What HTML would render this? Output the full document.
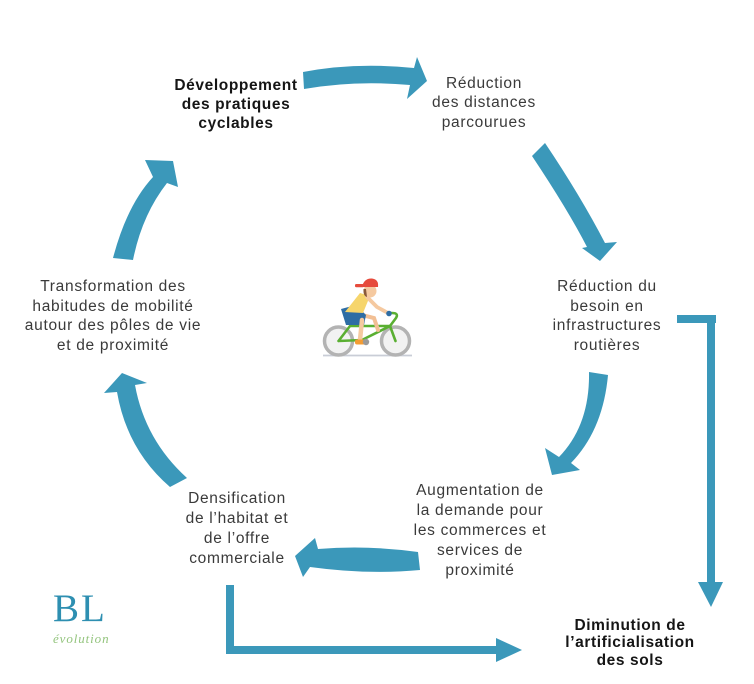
<!DOCTYPE html>
<html>
<head>
<meta charset="utf-8">
<style>
  html,body{margin:0;padding:0;background:#fff;}
  body{width:754px;height:684px;position:relative;overflow:hidden;}
  .t{position:absolute;text-align:center;font-family:"Liberation Sans",Arial,sans-serif;white-space:nowrap;}
  .r{font-size:15.5px;color:#3a3a3a;letter-spacing:0.7px;}
  .b{font-size:15.5px;color:#151515;font-weight:bold;letter-spacing:0.6px;}
  svg{position:absolute;left:0;top:0;}
</style>
</head>
<body>
<svg width="754" height="684" viewBox="0 0 754 684" xmlns="http://www.w3.org/2000/svg">
  <g fill="#3b98ba">
    <!-- top arrow -->
    <path d="M303,72 Q355,62 414,68 L417,57 L427,81 L407,99 L410,85 Q355,80 304,89 Z"/>
    <!-- upper right arrow -->
    <path d="M545,143 Q580,195 605,243 L617,242 L600,261 L582,248 L587,247 Q568,210 532,156 Z"/>
    <!-- lower right arrow -->
    <path d="M589,372 L608,375 Q603,430 571,463 L580,470 L552,475 L545,448 L559,457 Q590,425 589,372 Z"/>
    <!-- bottom arrow -->
    <path d="M418,552 Q368,545 318,549 L315,538 L295,556 L303,577 L310,567 Q368,575 420,570 Z"/>
    <!-- lower left arrow -->
    <path d="M187,478 Q145,440 135,385 L147,383 L122,373 L104,393 L117,392 Q127,450 170,487 Z"/>
    <!-- upper left arrow -->
    <path d="M113,258 Q127,205 153,177 L145,160 L173,161 L178,187 L167,183 Q142,215 133,260 Z"/>
    <!-- right L connector -->
    <rect x="677" y="315" width="39" height="8"/>
    <rect x="707" y="315" width="8" height="268"/>
    <polygon points="698,582 723,582 711,607"/>
    <!-- bottom L connector -->
    <rect x="226" y="585" width="8" height="69"/>
    <rect x="226" y="646" width="272" height="8"/>
    <polygon points="496,638 496,662 522,650"/>
  </g>

  <!-- cyclist -->
  <g>
    <line x1="323" y1="355.5" x2="412" y2="355.5" stroke="#c9cdd6" stroke-width="1.8"/>
    <circle cx="338.5" cy="341" r="14" fill="#f2f2f2" stroke="#b3b3b3" stroke-width="3.5"/>
    <circle cx="395.5" cy="341" r="14" fill="#f2f2f2" stroke="#b3b3b3" stroke-width="3.5"/>
    <g stroke="#5aaf32" stroke-width="2.6" fill="none" stroke-linecap="round" stroke-linejoin="round">
      <polyline points="338.5,341 350,326 390,326 362,340 338.5,341"/>
      <line x1="390" y1="326" x2="395.5" y2="341"/>
      <path d="M390,326 L396,318 Q399,313 392,313 L388,313"/>
    </g>
    <!-- far leg -->
    <path d="M358,314 L374,318 L378,330" stroke="#f2bf94" stroke-width="4" fill="none" stroke-linecap="round"/>
    <!-- shorts -->
    <polygon points="341,309 356,305 366,315 364,325 346,325" fill="#2e6da4"/>
    <!-- shin -->
    <path d="M362,320 L360,340" stroke="#f5c9a0" stroke-width="4.5" stroke-linecap="round"/>
    <!-- shoe -->
    <rect x="355" y="339.5" width="11" height="5" rx="2" fill="#f39c34"/>
    <circle cx="366" cy="342" r="3.2" fill="#9a9a9a"/>
    <!-- torso -->
    <polygon points="360,293 370,296 363,313 345,312" fill="#f6d56b"/>
    <!-- arm -->
    <path d="M367,297 L377,307 L388,313" stroke="#f5c9a0" stroke-width="3.8" fill="none" stroke-linecap="round" stroke-linejoin="round"/>
    <circle cx="389" cy="313.5" r="2.8" fill="#2e6da4"/>
    <!-- head -->
    <circle cx="370" cy="291" r="6.5" fill="#f5c9a0"/>
    <path d="M363.5,289 Q363,296 367,297 L366,289 Z" fill="#8a5a3a"/>
    <path d="M362,287 Q364,278 372,278.5 Q379,279.5 378,287 Z" fill="#e64b3c"/>
    <rect x="355" y="284" width="9" height="3.2" rx="1.3" fill="#e64b3c"/>
  </g>
</svg>

<!-- texts -->
<div class="t b" style="left:136px;width:200px;top:75.5px;line-height:19px;">Développement<br>des pratiques<br>cyclables</div>
<div class="t r" style="left:384px;width:200px;top:74px;line-height:19.3px;">Réduction<br>des distances<br>parcourues</div>
<div class="t r" style="left:507px;width:200px;top:277px;line-height:19.7px;">Réduction du<br>besoin en<br>infrastructures<br>routières</div>
<div class="t r" style="left:0px;width:226px;top:277px;line-height:19.7px;">Transformation des<br>habitudes de mobilité<br>autour des pôles de vie<br>et de proximité</div>
<div class="t r" style="left:380px;width:200px;top:480.5px;line-height:20px;">Augmentation de<br>la demande pour<br>les commerces et<br>services de<br>proximité</div>
<div class="t r" style="left:137px;width:200px;top:489px;line-height:20px;">Densification<br>de l’habitat et<br>de l’offre<br>commerciale</div>
<div class="t b" style="left:530px;width:200px;top:616.5px;line-height:17.5px;">Diminution de<br>l’artificialisation<br>des sols</div>

<!-- logo -->
<div style="position:absolute;left:53px;top:589px;font-family:'Liberation Serif',serif;font-size:39px;line-height:39px;color:#2e8fb1;letter-spacing:2px;">BL</div>
<div style="position:absolute;left:53px;top:632px;font-family:'Liberation Serif',serif;font-style:italic;font-size:13px;line-height:14px;color:#93c47d;letter-spacing:0.9px;">évolution</div>
</body>
</html>
